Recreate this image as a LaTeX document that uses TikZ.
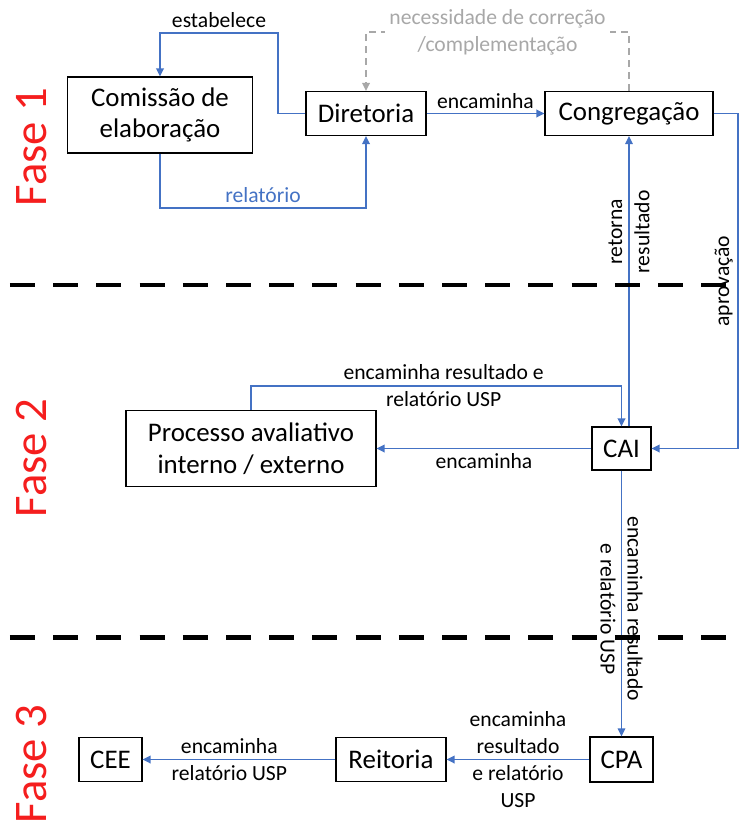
\documentclass[tikz,border=0pt]{standalone}
\usepackage{fontspec}
\setmainfont{Carlito}
\usepackage{tikz}
\usetikzlibrary{arrows.meta}

\definecolor{linkblue}{RGB}{68,114,196}
\definecolor{loopgray}{RGB}{168,168,168}
\definecolor{fasered}{RGB}{245,30,30}

\tikzset{
	box/.style={draw, line width=0.6pt, inner sep=0pt, align=center, font=\fontsize{15.3}{18}\selectfont},
	flow/.style={draw=linkblue, line width=1pt, -{Triangle[length=1.6mm,width=1.5mm]}},
	lbl/.style={font=\fontsize{12.3}{15.4}\selectfont, inner sep=2.5pt, align=center},
	phase/.style={text=fasered, rotate=90, inner sep=0pt, font=\fontsize{26.6}{30}\selectfont},
	phaseline/.style={line width=2.8pt, dash pattern=on 0.5cm off 0.364cm}
}

\begin{document}
\begin{tikzpicture}
		\useasboundingbox (0,0) rectangle (14.9,-16.54);
		\node[box, minimum width=3.7cm, minimum height=1.52cm] (comissao) at (3.2,-2.3) {Comissão de\\elaboração};
		\node[box, minimum width=2.4cm, minimum height=0.88cm] (diretoria) at (7.32,-2.27) {Diretoria};
		\node[box, minimum width=3.36cm, minimum height=0.88cm] (congregacao) at (12.58,-2.27) {Congregação};
		\node[box, minimum width=5cm, minimum height=1.52cm] (processo) at (5.02,-8.97) {Processo avaliativo\\interno / externo};
		\node[box, minimum width=1.18cm, minimum height=0.86cm] (cai) at (12.43,-8.97) {CAI};
		\node[box, minimum width=1.26cm, minimum height=0.88cm] (cee) at (2.21,-15.19) {CEE};
		\node[box, minimum width=2.2cm, minimum height=0.88cm] (reitoria) at (7.82,-15.19) {Reitoria};
		\node[box, minimum width=1.26cm, minimum height=0.9cm] (cpa) at (12.43,-15.19) {CPA};
		\node[phase] (fase1) at (0.63,-2.94) {Fase 1};
		\node[phase] (fase2) at (0.63,-9.16) {Fase 2};
		\node[phase] (fase3) at (0.63,-15.28) {Fase 3};
		\coordinate (estab) at (5.56,-0.66);
		\coordinate (rel) at (3.2,-4.16);
		\coordinate (corr) at (12.58,-0.64);
		\coordinate (aprov) at (14.76,-2.27);
		\coordinate (res) at (5.02,-7.72);
		\draw[flow] (diretoria.west) -| (estab) -| (comissao.north) node[lbl, pos=.25, above] {estabelece};
		\draw[flow] (comissao.south) -- (rel) -| (diretoria.south) node[lbl, pos=.25, above, text=linkblue] {relatório};
		\draw[flow, draw=loopgray, dash pattern=on 1.4mm off 1mm] (congregacao.north) -- (corr) -| (diretoria.north) node[lbl, pos=.25, fill=white, text=loopgray] {necessidade de correção\\/complementação};
		\draw[flow] (diretoria.east) -- (congregacao.west) node[lbl, midway, above] {encaminha};
		\draw[flow] (congregacao.east) -- (aprov) |- (cai.east) node[lbl, pos=.25, above, rotate=90] {aprovação};
		\draw[flow, line width=0.7pt] (congregacao.south |- cai.north) -- (congregacao.south) node[lbl, pos=.67, rotate=90] {retorna\\resultado};
		\draw[flow] (cai.west) -- (processo.east) node[lbl, midway, below] {encaminha};
		\draw[flow] (processo.north) -- (res) -| (cai.north) node[lbl, pos=.26] {encaminha resultado e\\relatório USP};
		\draw[flow, line width=0.7pt] (cai.south) -- (cpa.north) node[lbl, pos=.52, rotate=-90] {encaminha resultado\\e relatório USP};
		\draw[flow] (cpa.west) -- (reitoria.east) node[lbl, midway] {encaminha\\resultado\\e relatório\\USP};
		\draw[flow] (reitoria.west) -- (cee.east) node[lbl, pos=.55] {encaminha\\relatório USP};
		\draw[phaseline] (0.2,-5.7) -- (14.8,-5.7);
		\draw[phaseline] (0.2,-12.75) -- (14.8,-12.75);
	\end{tikzpicture}
\end{document}
